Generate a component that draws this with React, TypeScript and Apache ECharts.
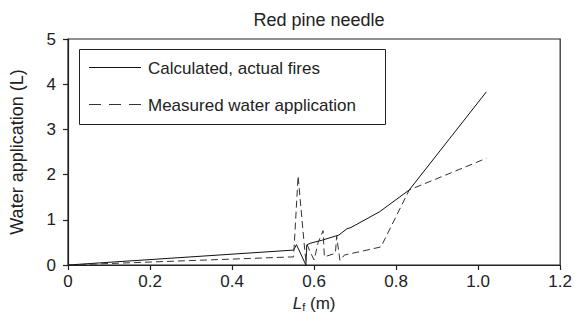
import React, { useEffect, useRef } from "react";
import * as echarts from "echarts";

const titleText = "Red pine needle";
const seriesNames = ["Calculated, actual fires", "Measured water application"];
const xTicks = [0, 0.2, 0.4, 0.6, 0.8, 1.0, 1.2];
const yTicks = [0, 1, 2, 3, 4, 5];

const calcX = [0, 0.55, 0.557, 0.58, 0.582, 0.59, 0.62, 0.652, 0.66, 0.68, 0.69, 0.76, 0.832, 1.02];
const calcY = [0, 0.33, 0.45, 0, 0.44, 0.48, 0.55, 0.64, 0.66, 0.8, 0.83, 1.18, 1.66, 3.83];

const measX = [0, 0.55, 0.561, 0.577, 0.58, 0.583, 0.59, 0.6, 0.61, 0.622, 0.625, 0.652, 0.655, 0.663, 0.674, 0.763, 0.832, 1.02];
const measY = [0, 0.18, 1.97, 0.35, 0.1, 0.45, 0.3, 0.11, 0.5, 0.76, 0.18, 0.26, 0.64, 0.1, 0.22, 0.4, 1.66, 2.36];

const FONT = "'Liberation Sans', Arial, Helvetica, sans-serif";
const INK = "#222";
const DASH = [7, 4];
const LEGEND_DASH = [12, 8];

export default function App() {
  const ref = useRef<HTMLDivElement>(null);
  useEffect(() => {
    if (!ref.current) return;
    const chart = echarts.init(ref.current, null, { renderer: "svg" });
    const calc = calcX.map((x, i) => [x, calcY[i]]);
    const meas = measX.map((x, i) => [x, measY[i]]);
    chart.setOption({
      animation: false,
      backgroundColor: "#fff",
      textStyle: { fontFamily: FONT },
      title: {
        text: titleText,
        left: 314,
        textAlign: "center",
        top: 6,
        textStyle: { fontSize: 18, fontWeight: "normal", color: INK, fontFamily: FONT },
      },
      grid: {
        left: 67,
        top: 39,
        width: 495,
        height: 226,
        show: true,
        borderColor: INK,
        borderWidth: 1.2,
        backgroundColor: "transparent",
      },
      legend: { show: false, data: seriesNames },
      graphic: [
        {
          type: "rect",
          left: 79,
          top: 49,
          shape: { x: 0, y: 0, width: 306, height: 75 },
          style: { fill: "#fff", stroke: INK, lineWidth: 1 },
          z: 10,
        },
        {
          type: "line",
          shape: { x1: 89, y1: 67.5, x2: 141, y2: 67.5 },
          style: { stroke: "#111", lineWidth: 1 },
          z: 11,
        },
        {
          type: "line",
          shape: { x1: 89, y1: 104.5, x2: 141, y2: 104.5 },
          style: { stroke: "#333", lineWidth: 1, lineDash: LEGEND_DASH },
          z: 11,
        },
        {
          type: "text",
          x: 148,
          y: 68,
          style: { text: seriesNames[0], fontSize: 17, fill: INK, fontFamily: FONT, verticalAlign: "middle" },
          z: 11,
        },
        {
          type: "text",
          x: 148,
          y: 105,
          style: { text: seriesNames[1], fontSize: 17, fill: INK, fontFamily: FONT, verticalAlign: "middle" },
          z: 11,
        },
      ],
      xAxis: {
        type: "value",
        min: 0,
        max: 1.2,
        interval: 0.2,
        name: "{i|L}{s|f} (m)",
        nameLocation: "middle",
        nameGap: 25,
        nameTextStyle: {
          fontSize: 17,
          color: INK,
          fontFamily: FONT,
          rich: {
            i: { fontSize: 17, fontStyle: "italic", color: INK, fontFamily: FONT },
            s: { fontSize: 11, color: INK, verticalAlign: "bottom", padding: [8, 0, 0, 0], fontFamily: FONT },
          },
        },
        axisLine: { show: true, lineStyle: { color: INK, width: 1.2 } },
        axisTick: { show: true, inside: false, length: 5, lineStyle: { color: INK, width: 1.2 } },
        axisLabel: {
          fontSize: 17,
          color: INK,
          margin: 8,
          formatter: (v: number) => (xTicks.includes(Number(v.toFixed(1))) ? (v === 0 ? "0" : v.toFixed(1)) : ""),
        },
        splitLine: { show: false },
      },
      yAxis: {
        type: "value",
        min: 0,
        max: 5,
        interval: 1,
        name: "Water application (L)",
        nameLocation: "middle",
        nameGap: 42,
        nameTextStyle: { fontSize: 18, color: INK, fontFamily: FONT },
        axisLine: { show: true, lineStyle: { color: INK, width: 1.2 } },
        axisTick: { show: true, inside: false, length: 5, lineStyle: { color: INK, width: 1.2 } },
        axisLabel: {
          fontSize: 17,
          color: INK,
          margin: 12,
          formatter: (v: number) => (yTicks.includes(v) ? String(v) : ""),
        },
        splitLine: { show: false },
      },
      series: [
        {
          name: seriesNames[0],
          type: "line",
          data: calc,
          symbol: "none",
          color: "#111",
          lineStyle: { color: "#111", width: 1 },
        },
        {
          name: seriesNames[1],
          type: "line",
          data: meas,
          symbol: "none",
          color: "#333",
          lineStyle: { color: "#333", width: 1, type: DASH },
        },
      ],
    });
    return () => chart.dispose();
  }, []);
  return (
    <div
      ref={ref}
      style={{ position: "fixed", left: 0, top: 0, width: 575, height: 325, background: "#fff" }}
    />
  );
}
